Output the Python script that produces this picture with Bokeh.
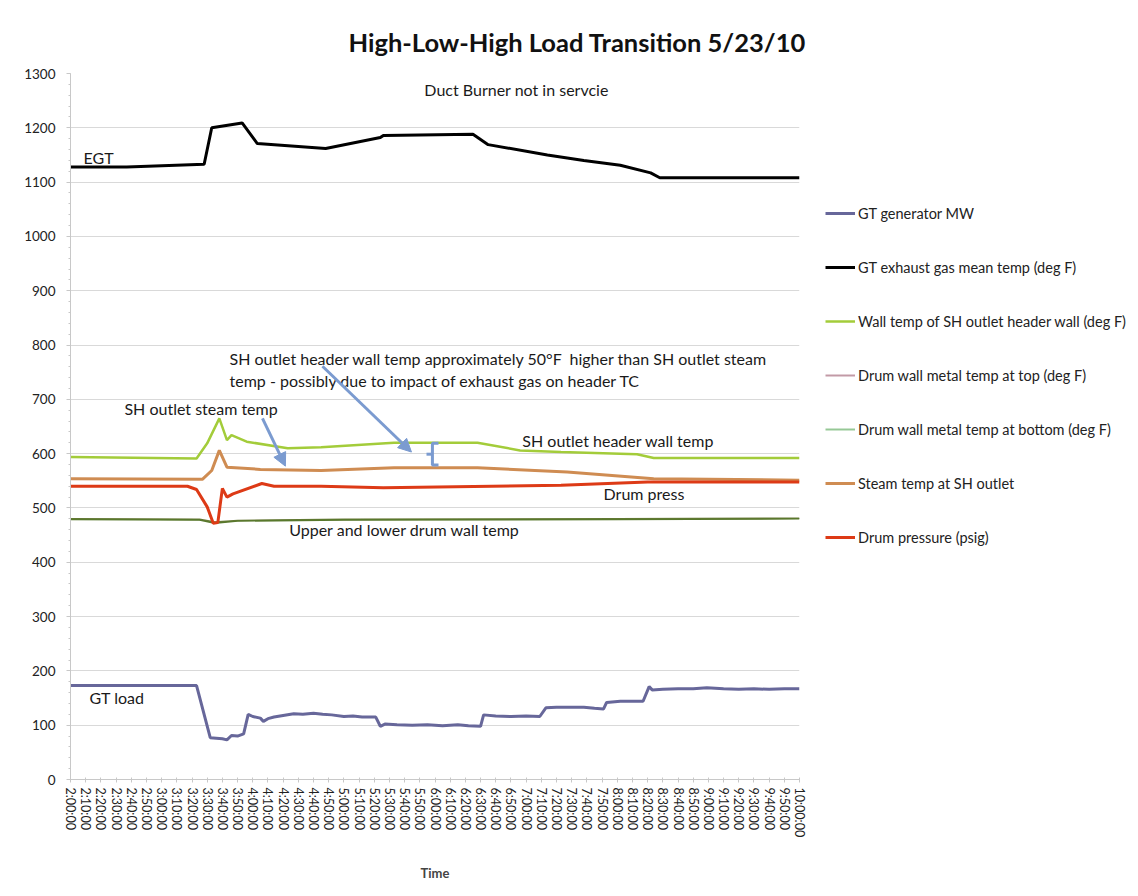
from bokeh.plotting import figure
from bokeh.layouts import row
from bokeh.models import FixedTicker, Legend, LegendItem, Arrow, NormalHead, Label
from bokeh.embed import file_html
from bokeh.resources import INLINE

# ---------------- data ----------------
TICK_LABELS = ["2:00:00", "2:10:00", "2:20:00", "2:30:00", "2:40:00", "2:50:00",
               "3:00:00", "3:10:00", "3:20:00", "3:30:00", "3:40:00", "3:50:00",
               "4:00:00", "4:10:00", "4:20:00", "4:30:00", "4:40:00", "4:50:00",
               "5:00:00", "5:10:00", "5:20:00", "5:30:00", "5:40:00", "5:50:00",
               "6:00:00", "6:10:00", "6:20:00", "6:30:00", "6:40:00", "6:50:00",
               "7:00:00", "7:10:00", "7:20:00", "7:30:00", "7:40:00", "7:50:00",
               "8:00:00", "8:10:00", "8:20:00", "8:30:00", "8:40:00", "8:50:00",
               "9:00:00", "9:10:00", "9:20:00", "9:30:00", "9:40:00", "9:50:00",
               "10:00:00"]

gt_time = ["2:00", "3:23", "3:32", "3:36", "3:40", "3:43", "3:46", "3:50", "3:54", "3:57",
           "4:00", "4:05", "4:07", "4:10", "4:14", "4:20", "4:27", "4:33", "4:40", "4:46",
           "4:52", "5:00", "5:06", "5:12", "5:21", "5:24", "5:27", "5:35", "5:45", "5:55",
           "6:05", "6:15", "6:22", "6:30", "6:32", "6:40", "6:50", "7:00", "7:09", "7:13",
           "7:20", "7:30", "7:38", "7:45", "7:51", "7:53", "8:02", "8:10", "8:17", "8:21",
           "8:23", "8:30", "8:40", "8:50", "8:59", "9:10", "9:20", "9:30", "9:40", "9:50",
           "10:00"]
gt_mw = [173, 173, 77, 76, 75, 73, 81, 80, 84, 120,
         116, 113, 107, 112, 115, 118, 121, 120, 122, 120,
         119, 116, 117, 115, 115, 98, 102, 101, 100, 101,
         99, 101, 99, 98, 119, 117, 116, 117, 116, 132,
         133, 133, 133, 131, 130, 142, 144, 144, 144, 171,
         165, 166, 167, 167, 169, 167, 166, 167, 166, 167,
         167]

egt_time = ["2:00", "2:37", "3:28", "3:33", "3:53", "4:03", "4:48", "5:24", "5:26",
            "6:25", "6:35", "7:14", "7:38", "8:02", "8:22", "8:28", "10:00"]
egt_temp = [1128, 1128, 1133, 1200, 1209, 1171, 1162, 1182, 1186,
            1188, 1169, 1150, 1140, 1131, 1117, 1108, 1108]

wall_time = ["2:00", "3:23", "3:30", "3:38", "3:43", "3:46", "3:56", "4:23", "4:45",
             "5:33", "6:28", "6:56", "7:23", "8:13", "8:24", "10:00"]
wall_temp = [594, 591, 619, 665, 625, 634, 622, 610, 612,
             620, 620, 606, 603, 599, 592, 592]

drum_time = ["2:00", "3:25", "3:35", "3:50", "5:00", "8:00", "10:00"]
drum_top = [480, 479, 474, 477, 479, 480, 481]
drum_bottom = [479, 478, 472, 476, 478, 479, 480]

steam_time = ["2:00", "3:27", "3:33", "3:38", "3:43", "4:05", "4:45", "5:33", "6:28",
              "7:27", "8:24", "10:00"]
steam_temp = [554, 553, 569, 606, 575, 571, 569, 574, 574, 566, 554, 551]

press_time = ["2:00", "3:17", "3:23", "3:30", "3:34", "3:37", "3:40", "3:43", "3:47",
              "4:06", "4:14", "4:45", "5:26", "7:23", "8:20", "10:00"]
press_psig = [540, 540, 534, 502, 472, 473, 536, 520, 526,
              545, 540, 540, 537, 542, 548, 548]

SERIES_NAMES = ["GT generator MW",
                "GT exhaust gas mean temp (deg F)",
                "Wall temp of SH outlet header wall (deg F)",
                "Drum wall metal temp at top (deg F)",
                "Drum wall metal temp at bottom (deg F)",
                "Steam temp at SH outlet",
                "Drum pressure (psig)"]
SERIES_COLORS = ["#67679a", "#000000", "#a3cc3a", "#c29aa6", "#96c896", "#cf8c52", "#dd3a16"]
SERIES_WIDTHS = [3, 3, 2.5, 2, 2, 3, 3]


def mins(ts):
    """'H:MM' -> minutes after 2:00"""
    out = []
    for s in ts:
        h, m = s.split(":")
        out.append((int(h) - 2) * 60 + int(m))
    return out


FONT = "Lato"

p = figure(width=809, height=896, x_range=(0, 480), y_range=(0, 1300),
           output_backend="svg", toolbar_location=None,
           min_border_left=70, min_border_right=10,
           min_border_top=73, min_border_bottom=117)

p.title.text = "High-Low-High Load Transition 5/23/10"
p.title.text_font = FONT
p.title.text_font_size = "25.5px"
p.title.text_font_style = "bold"
p.title.text_color = "#111111"
p.title.align = "left"
p.title.offset = 278
p.title.standoff = 33

p.outline_line_color = None
p.xgrid.visible = False
p.ygrid.grid_line_color = "#d9d9d9"
p.ygrid.grid_line_width = 1

# y axis
p.yaxis.ticker = FixedTicker(ticks=list(range(0, 1301, 100)),
                             minor_ticks=list(range(0, 1301, 20)))
p.yaxis.axis_line_color = "#c8c8c8"
p.yaxis.major_tick_line_color = "#c8c8c8"
p.yaxis.minor_tick_line_color = "#c8c8c8"
p.yaxis.major_tick_in = 0
p.yaxis.major_tick_out = 4
p.yaxis.minor_tick_in = 0
p.yaxis.minor_tick_out = 2
p.yaxis.major_label_standoff = 11
p.yaxis.major_label_text_font = FONT
p.yaxis.major_label_text_font_size = "13.5px"
p.yaxis.major_label_text_color = "#222222"

# x axis
xt = list(range(0, 481, 10))
p.xaxis.ticker = FixedTicker(ticks=xt)
p.xaxis.major_label_overrides = {t: lab for t, lab in zip(xt, TICK_LABELS)}
p.xaxis.major_label_orientation = "vertical"
p.xaxis.major_label_text_font = FONT
p.xaxis.major_label_text_font_size = "12.5px"
p.xaxis.major_label_text_color = "#222222"
p.xaxis.axis_line_color = "#c8c8c8"
p.xaxis.major_tick_line_color = "#c8c8c8"
p.xaxis.major_tick_in = 2
p.xaxis.major_tick_out = 3
p.xaxis.minor_tick_line_color = None
p.xaxis.axis_label = "Time"
p.xaxis.axis_label_text_font = FONT
p.xaxis.axis_label_text_font_style = "bold"
p.xaxis.axis_label_text_font_size = "13px"
p.xaxis.axis_label_standoff = 25

# ---------------- lines ----------------
p.line(mins(gt_time), gt_mw, line_color=SERIES_COLORS[0], line_width=3)
p.line(mins(egt_time), egt_temp, line_color=SERIES_COLORS[1], line_width=3)
p.line(mins(wall_time), wall_temp, line_color=SERIES_COLORS[2], line_width=2.5)
p.line(mins(drum_time), drum_top, line_color="#6b7a3a", line_width=1.6)
p.line(mins(drum_time), drum_bottom, line_color="#58782c", line_width=1.6)
p.line(mins(steam_time), steam_temp, line_color=SERIES_COLORS[5], line_width=3)
p.line(mins(press_time), press_psig, line_color=SERIES_COLORS[6], line_width=3)

# ---------------- annotations ----------------
def note(x, y, text):
    p.add_layout(Label(x=x, y=y, text=text, text_font=FONT, text_font_size="16px",
                       text_baseline="middle", text_align="left", text_color="#1a1a1a"))


note(233, 1270, "Duct Burner not in servcie")
note(8.6, 1146, "EGT")
note(35.5, 684, "SH outlet steam temp")
note(104.7, 776, "SH outlet header wall temp approximately 50\u00b0F\u00a0 higher than SH outlet steam")
note(104.7, 735, "temp - possibly due to impact of exhaust gas on header TC")
note(297.5, 625, "SH outlet header wall temp")
note(351, 527, "Drum press")
note(144, 461, "Upper and lower drum wall temp")
note(12.5, 151, "GT load")

ARROW = "#7b9bd0"
for xs, ys, xe, ye in [(126.4, 665, 141.5, 577), (165.9, 761, 224.5, 603)]:
    p.add_layout(Arrow(x_start=xs, y_start=ys, x_end=xe, y_end=ye,
                       line_color=ARROW, line_width=3,
                       end=NormalHead(size=13, fill_color=ARROW, line_color=ARROW)))

# bracket between the wall temp and steam temp lines
p.multi_line([[242.3, 238.3, 238.3, 242.3], [234.4, 238.3]],
             [[619, 619, 579, 579], [599, 599]],
             line_color=ARROW, line_width=3)

# ---------------- legend panel (separate figure on the right) ----------------
lg = figure(width=329, height=896, x_range=(0, 1), y_range=(0, 1),
            output_backend="svg", toolbar_location=None,
            x_axis_type=None, y_axis_type=None, min_border=0)
lg.outline_line_color = None
lg.grid.visible = False
items = []
for name, col, w in zip(SERIES_NAMES, SERIES_COLORS, SERIES_WIDTHS):
    r = lg.line([-2, -1], [-2, -2], line_color=col, line_width=w)
    items.append(LegendItem(label=name, renderers=[r]))
legend = Legend(items=items, location=(16, 232))
legend.border_line_color = None
legend.background_fill_alpha = 0
legend.glyph_width = 30
legend.glyph_height = 20
legend.label_height = 20
legend.spacing = 34
legend.padding = 10
legend.margin = 0
legend.label_standoff = 3
legend.label_text_font = FONT
legend.label_text_font_size = "14.5px"
legend.label_text_color = "#222222"
lg.add_layout(legend)

layout = row(p, lg, spacing=0)
open("out.html", "w").write(file_html(layout, INLINE))
